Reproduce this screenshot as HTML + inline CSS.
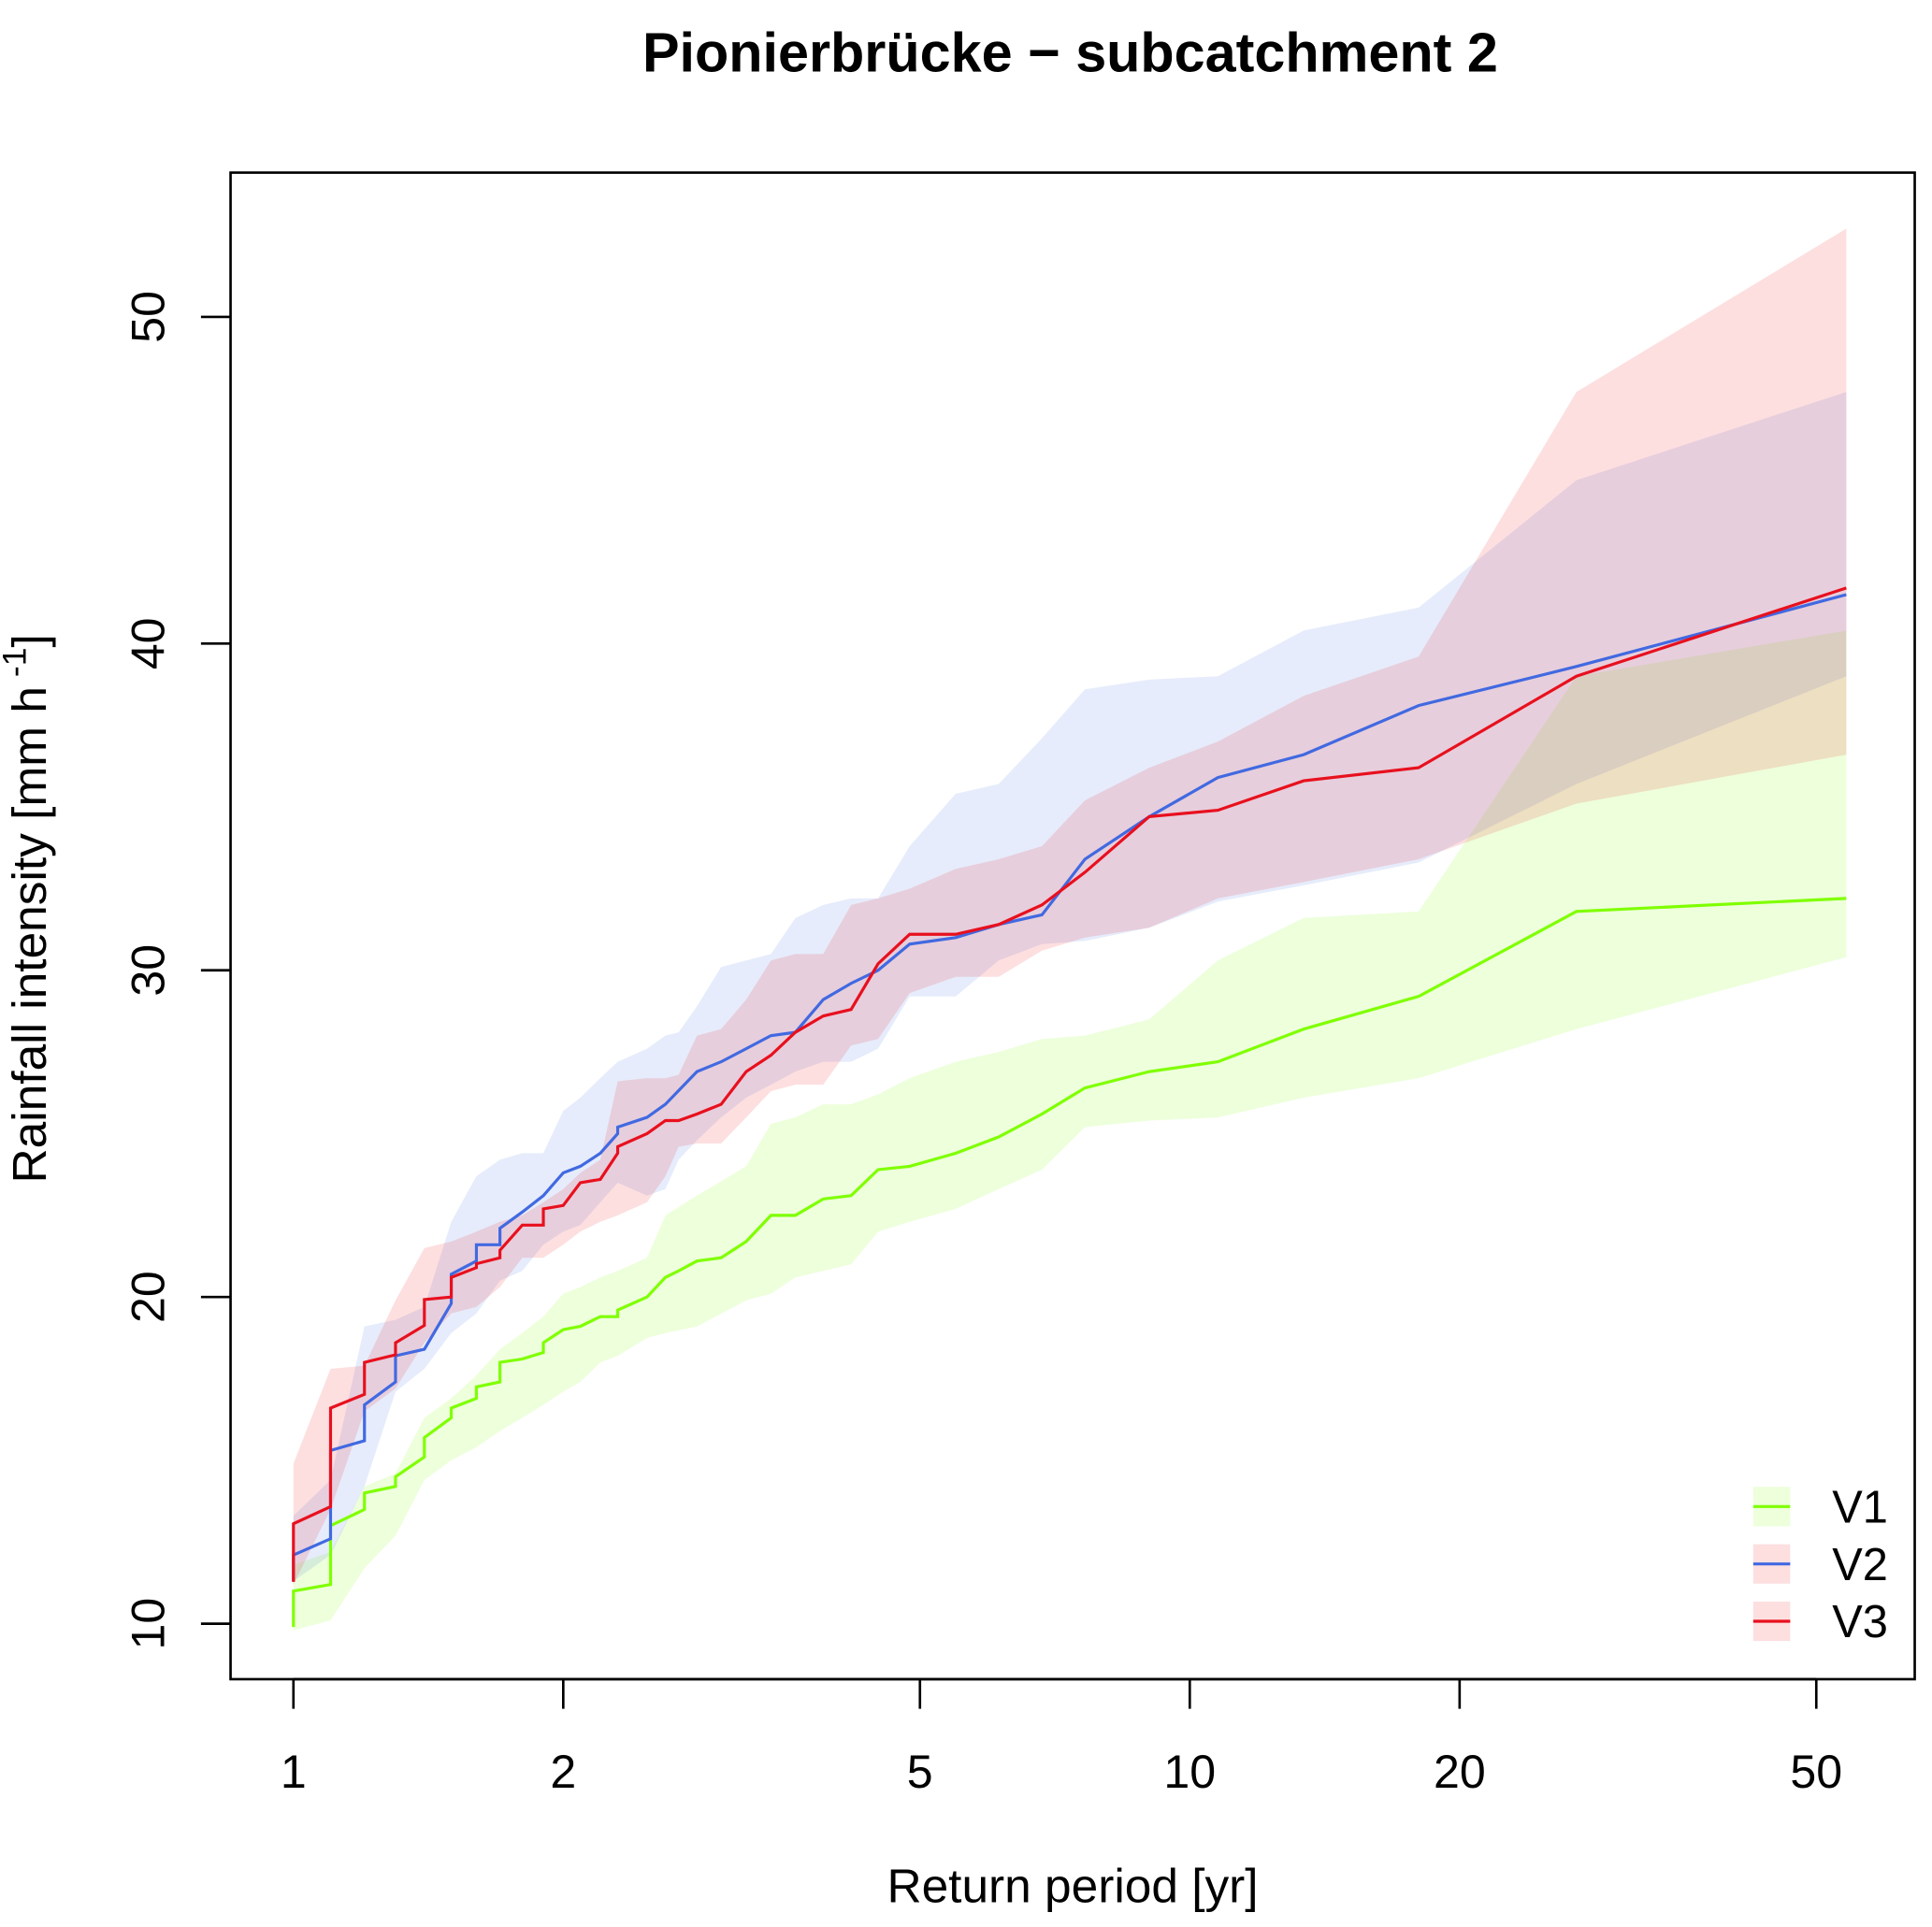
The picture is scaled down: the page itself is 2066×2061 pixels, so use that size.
<!DOCTYPE html>
<html><head><meta charset="utf-8"><style>
html,body{margin:0;padding:0;background:#fff;}
svg{display:block;font-family:"Liberation Sans",Arial,sans-serif;}
</style></head><body>
<svg id="chart" width="2066" height="2061" viewBox="0 0 1567 1563" preserveAspectRatio="none" xmlns="http://www.w3.org/2000/svg">
<rect width="1567" height="1563" fill="#fff"/>
<text x="868" y="58" text-anchor="middle" font-size="45" font-weight="bold">Pionierbrücke − subcatchment 2</text>
<g id="bands"></g>
<g id="lines"></g>
<rect x="187" y="140" width="1366" height="1222" fill="none" stroke="#000" stroke-width="2"/>
<g id="axes"></g>
<text x="870" y="1543" text-anchor="middle" font-size="39">Return period [yr]</text>
<text transform="translate(37,737) rotate(-90)" text-anchor="middle" font-size="39">Rainfall intensity [mm h<tspan dy="-16" font-size="27"> -1</tspan><tspan dy="16">]</tspan></text>
<g id="legend"></g>
</svg>
<script>
const xTicks=[1,2,5,10,20,50];
const yTicks=[10,20,30,40,50];
const seriesNames=["V1","V2","V3"];
const lineColors=["#7FFF00","#4169E1","#E8101E"];
const bandColors=["rgba(127,255,0,0.14)","rgba(65,105,225,0.13)","rgba(240,40,50,0.15)"];

const v1T=[1,1,1.1,1.1,1.2,1.2,1.3,1.3,1.4,1.4,1.5,1.5,1.6,1.6,1.7,1.7,1.8,1.9,1.9,2,2.09,2.2,2.3,2.3,2.48,2.6,2.69,2.82,3,3.2,3.41,3.63,3.9,4.19,4.49,4.87,5.48,6.12,6.84,7.64,9.01,10.75,13.4,18,27,54];
const v1V=[9.9,11.0,11.2,13.0,13.5,14.0,14.2,14.5,15.1,15.7,16.3,16.6,16.9,17.25,17.4,18.0,18.1,18.3,18.6,19.0,19.1,19.4,19.4,19.6,20.0,20.6,20.8,21.1,21.2,21.7,22.5,22.5,23.0,23.1,23.9,24.0,24.4,24.9,25.6,26.4,26.9,27.2,28.2,29.2,31.8,32.2];
const v2T=[1,1,1.1,1.1,1.2,1.2,1.3,1.3,1.4,1.5,1.5,1.6,1.6,1.7,1.7,1.8,1.9,2,2.09,2.2,2.3,2.3,2.48,2.6,2.82,3,3.2,3.41,3.63,3.9,4.19,4.49,4.87,5.48,6.12,6.84,7.64,9.01,10.75,13.4,18,27,54];
const v2V=[11.3,12.1,12.6,15.3,15.6,16.7,17.4,18.2,18.4,19.8,20.7,21.1,21.6,21.6,22.1,22.6,23.1,23.8,24.0,24.4,25.0,25.2,25.5,25.9,26.9,27.2,27.6,28.0,28.1,29.1,29.6,30.0,30.8,31.0,31.4,31.7,33.4,34.7,35.9,36.6,38.1,39.3,41.5];
const v3T=[1,1,1.1,1.1,1.2,1.2,1.3,1.3,1.4,1.4,1.5,1.5,1.6,1.6,1.7,1.7,1.8,1.9,1.9,2,2.09,2.2,2.3,2.3,2.48,2.6,2.69,2.82,3,3.2,3.41,3.63,3.9,4.19,4.49,4.87,5.48,6.12,6.84,7.64,9.01,10.75,13.4,18,27,54];
const v3V=[11.28,13.06,13.58,16.6,17.02,18.0,18.23,18.6,19.13,19.92,20.0,20.6,20.9,21.02,21.2,21.43,22.2,22.2,22.7,22.8,23.5,23.6,24.4,24.6,25.0,25.4,25.4,25.6,25.9,26.9,27.4,28.1,28.6,28.8,30.2,31.1,31.1,31.4,32.0,33.0,34.7,34.9,35.8,36.2,39.0,41.7];

const b1T=[1,1.1,1.2,1.3,1.4,1.5,1.6,1.7,1.8,1.9,2,2.09,2.2,2.3,2.48,2.6,2.82,3.2,3.41,3.63,3.9,4.19,4.49,4.87,5.48,6.12,6.84,7.64,9.01,10.75,13.4,18,27,54];
const b1Hi=[11.8,12.2,14.2,14.6,16.3,16.9,17.6,18.4,18.9,19.4,20.1,20.3,20.6,20.8,21.2,22.5,23.1,24.0,25.3,25.5,25.9,25.9,26.2,26.7,27.2,27.5,27.9,28.0,28.5,30.3,31.6,31.8,39.0,40.4];
const b1Lo=[9.8,10.1,11.7,12.7,14.4,15.0,15.4,15.9,16.3,16.7,17.1,17.4,18.0,18.2,18.75,18.9,19.1,19.9,20.1,20.6,20.8,21.0,22.0,22.3,22.7,23.3,23.9,25.2,25.4,25.5,26.1,26.7,28.2,30.4];
const b2T=[1,1.1,1.2,1.3,1.4,1.5,1.6,1.7,1.8,1.9,2,2.09,2.2,2.3,2.48,2.6,2.69,2.82,3,3.2,3.41,3.63,3.9,4.19,4.49,4.87,5.48,6.12,6.84,7.64,9.01,10.75,13.4,18,27,54];
const b2Hi=[13.3,14.4,19.1,19.3,19.7,22.3,23.7,24.2,24.4,24.4,25.7,26.1,26.7,27.2,27.6,28.0,28.1,28.9,30.1,30.3,30.5,31.6,32.0,32.2,32.2,33.8,35.4,35.7,37.1,38.6,38.9,39.0,40.4,41.1,45.0,47.7];
const b2Lo=[11.3,12.1,14.2,17.1,17.8,18.9,19.5,20.5,20.8,21.6,22.0,22.2,22.9,23.5,23.1,23.3,24.2,24.8,25.5,26.1,26.5,26.9,27.2,27.2,27.6,29.2,29.2,30.3,30.8,30.9,31.3,32.1,32.6,33.3,35.7,39.0];
const b3T=[1,1.1,1.2,1.3,1.4,1.5,1.6,1.7,1.8,1.9,2,2.09,2.2,2.3,2.48,2.6,2.69,2.82,3,3.2,3.41,3.63,3.9,4.19,4.49,4.87,5.48,6.12,6.84,7.64,9.01,10.75,13.4,18,27,54];
const b3Hi=[14.9,17.8,17.9,19.9,21.5,21.7,22.0,22.3,22.5,22.9,23.3,23.8,24.2,26.6,26.7,26.7,26.8,28.0,28.2,29.1,30.3,30.5,30.5,32.0,32.2,32.5,33.1,33.4,33.8,35.2,36.2,37.0,38.4,39.6,47.7,52.7];
const b3Lo=[11.2,13.5,16.5,17.2,18.6,19.5,19.7,20.3,21.2,21.2,21.6,22.0,22.3,22.5,22.9,23.7,24.6,24.7,24.7,25.5,26.3,26.5,26.5,27.7,27.9,29.3,29.8,29.8,30.6,31.0,31.3,32.2,32.7,33.4,35.1,36.6];

const NS="http://www.w3.org/2000/svg";
function xs(t){return 238+727*Math.log10(t);}
function ys(v){return 1317-26.5*(v-10);}
function mk(tag,attrs,parent){const e=document.createElementNS(NS,tag);for(const k in attrs)e.setAttribute(k,attrs[k]);parent.appendChild(e);return e;}

const bandsG=document.getElementById('bands');
const bands=[[b1T,b1Hi,b1Lo],[b2T,b2Hi,b2Lo],[b3T,b3Hi,b3Lo]];
bands.forEach((b,i)=>{
  const [T,hi,lo]=b;
  const pts=[];
  for(let k=0;k<T.length;k++)pts.push(xs(T[k]).toFixed(1)+","+ys(hi[k]).toFixed(1));
  for(let k=T.length-1;k>=0;k--)pts.push(xs(T[k]).toFixed(1)+","+ys(lo[k]).toFixed(1));
  const p=mk('polygon',{points:pts.join(' '),fill:bandColors[i]},bandsG);
  
  
});

const linesG=document.getElementById('lines');
const series=[[v1T,v1V],[v2T,v2V],[v3T,v3V]];
series.forEach((s,i)=>{
  const pts=s[0].map((t,k)=>xs(t).toFixed(1)+","+ys(s[1][k]).toFixed(1)).join(' ');
  const l=mk('polyline',{points:pts,fill:'none',stroke:lineColors[i],'stroke-width':2.4},linesG);
  
  
});

const axesG=document.getElementById('axes');
xTicks.forEach(t=>{
  const x=xs(t);
  const tk=mk('line',{x1:x,x2:x,y1:1362,y2:1386,stroke:'#000','stroke-width':2},axesG);
  
  
  const tx=mk('text',{x:x,y:1450,'text-anchor':'middle','font-size':38},axesG);
  tx.textContent=t;
  
  
});
mk('line',{x1:xs(1),x2:xs(50),y1:1362,y2:1362,stroke:'#000','stroke-width':2},axesG);
yTicks.forEach(v=>{
  const y=ys(v);
  const tk=mk('line',{x1:163,x2:187,y1:y,y2:y,stroke:'#000','stroke-width':2},axesG);
  
  
  const tx=mk('text',{x:0,y:0,'text-anchor':'middle','font-size':38,transform:'translate(133,'+y+') rotate(-90)'},axesG);
  tx.textContent=v;
  
  
});

const legG=document.getElementById('legend');
const legFill=["rgba(127,255,0,0.14)","rgba(240,40,50,0.15)","rgba(240,40,50,0.15)"];
seriesNames.forEach((n,i)=>{
  const y=1222+46.5*i;
  const g=mk('g',{},legG);
  
  
  mk('rect',{x:1422,y:y-16,width:30,height:32,fill:legFill[i]},g);
  mk('line',{x1:1422,x2:1452,y1:y,y2:y,stroke:lineColors[i],'stroke-width':2.4},g);
  const t=mk('text',{x:1486,y:y+13,'font-size':37},g);
  t.textContent=n;
});
</script>
</body></html>
